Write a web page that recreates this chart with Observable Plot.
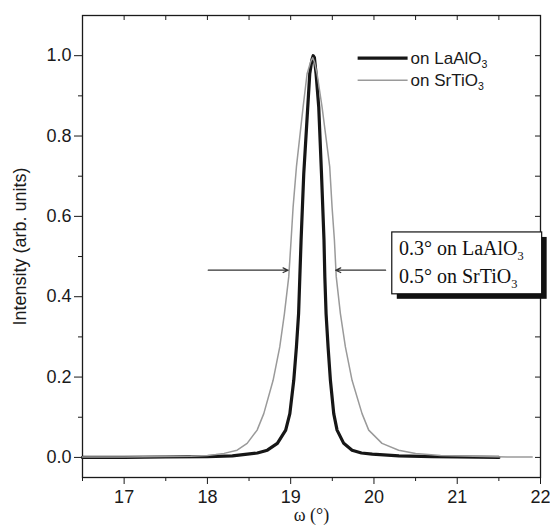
<!DOCTYPE html>
<html>
<head>
<meta charset="utf-8">
<script src="https://cdn.jsdelivr.net/npm/d3@7"></script>
<script src="https://cdn.jsdelivr.net/npm/@observablehq/plot@0.6"></script>
<style>
  html, body { margin: 0; padding: 0; background: white; }
  #chart { width: 550px; height: 530px; }
</style>
</head>
<body>
<div id="chart"></div>
<script>
// LaAlO3 rocking curve (omega, intensity)
const lanOmega = [16.5, 17.0, 17.5, 18.0, 18.3, 18.48, 18.6, 18.72, 18.84, 18.94, 18.99, 19.037, 19.069, 19.095, 19.11, 19.125, 19.157, 19.205, 19.229, 19.255, 19.27, 19.285, 19.305, 19.337, 19.37, 19.40, 19.41, 19.425, 19.449, 19.477, 19.517, 19.557, 19.637, 19.737, 19.85, 19.98, 20.3, 20.7, 21.0, 21.5];
const lanInt   = [0.000, 0.000, 0.001, 0.002, 0.004, 0.008, 0.011, 0.018, 0.035, 0.068, 0.109, 0.192, 0.275, 0.358, 0.450, 0.541, 0.706, 0.872, 0.955, 0.990, 1.000, 0.995, 0.955, 0.872, 0.706, 0.541, 0.450, 0.358, 0.275, 0.192, 0.109, 0.068, 0.035, 0.018, 0.011, 0.008, 0.004, 0.002, 0.001, 0.000];
// SrTiO3 rocking curve
const stoOmega = [16.5, 17.0, 17.5, 17.8, 18.0, 18.1, 18.2, 18.357, 18.477, 18.597, 18.677, 18.789, 18.869, 18.925, 18.977, 19.005, 19.029, 19.069, 19.149, 19.197, 19.24, 19.265, 19.285, 19.317, 19.377, 19.469, 19.497, 19.525, 19.547, 19.597, 19.657, 19.737, 19.857, 19.937, 20.097, 20.297, 20.5, 20.8, 21.2, 21.6, 21.9];
const stoInt   = [0.001, 0.001, 0.002, 0.003, 0.005, 0.007, 0.010, 0.018, 0.035, 0.068, 0.109, 0.192, 0.275, 0.358, 0.450, 0.541, 0.623, 0.723, 0.872, 0.955, 0.985, 0.995, 0.985, 0.955, 0.872, 0.723, 0.623, 0.541, 0.450, 0.358, 0.275, 0.192, 0.109, 0.068, 0.035, 0.018, 0.010, 0.005, 0.003, 0.001, 0.001];

const xTicks = [17, 18, 19, 20, 21, 22];
const xMinor = [16.5, 17.5, 18.5, 19.5, 20.5, 21.5];
const yTicks = [0, 0.2, 0.4, 0.6, 0.8, 1.0];
const yMinor = [0.1, 0.3, 0.5, 0.7, 0.9];

const seriesNames = ["on LaAlO_3", "on SrTiO_3"];
const seriesColors = ["#161616", "#9a9a9a"];
const seriesWidths = [3.2, 1.5];
const legendY = [0.994, 0.939];
const legendX = [19.81, 20.41, 20.44];

const boxLines = ["0.3° on LaAlO_3", "0.5° on SrTiO_3"];
const boxLineY = [0.519, 0.449];
const boxExtent = {x1: 20.22, x2: 22.02, y1: 0.406, y2: 0.560, textX: 20.30};
const arrows = [
  {x1: 18.01, x2: 18.97, y: 0.466},
  {x1: 20.14, x2: 19.54, y: 0.466}
];

const lan = lanOmega.map((x, i) => ({x, y: lanInt[i]}));
const sto = stoOmega.map((x, i) => ({x, y: stoInt[i]}));
const legendRows = seriesNames.map((name, i) => ({name, y: legendY[i], color: seriesColors[i], w: seriesWidths[i]}));

const fw = 550 - 82 - 10, fh = 530 - 15 - 53;
const serif = "'Liberation Serif', 'Times New Roman', serif";

const chart = Plot.plot({
  width: 550,
  height: 530,
  marginLeft: 82,
  marginRight: 10,
  marginTop: 15,
  marginBottom: 53,
  x: {domain: [16.5, 22]},
  y: {domain: [-0.05, 1.1]},
  style: {fontFamily: "'Liberation Sans', Arial, sans-serif", fontSize: "18px", color: "#1a1a1a", background: "white"},
  marks: [
    Plot.frame({stroke: "#1a1a1a", strokeWidth: 1.3}),
    Plot.axisX(xTicks, {tickSize: 7, tickPadding: 6, fontSize: 18, label: null, tickFormat: d => String(d)}),
    Plot.axisX(xMinor, {tickSize: 4, label: null, tickFormat: () => ""}),
    Plot.axisY(yTicks, {tickSize: 8, tickPadding: 3, fontSize: 18, label: null, tickFormat: d3.format(".1f")}),
    Plot.axisY(yMinor, {tickSize: 4, label: null, tickFormat: () => ""}),
    Plot.tickX(xTicks.concat(xMinor), {x: d => d, insetBottom: fh - 5, stroke: "#1a1a1a"}),
    Plot.tickY(yTicks.concat(yMinor), {y: d => d, insetLeft: fw - 5, stroke: "#1a1a1a"}),
    Plot.line(lan, {x: "x", y: "y", stroke: seriesColors[0], strokeWidth: seriesWidths[0], strokeLinejoin: "round"}),
    Plot.line(sto, {x: "x", y: "y", stroke: seriesColors[1], strokeWidth: seriesWidths[1]}),
    Plot.ruleY(legendRows, {y: "y", x1: legendX[0], x2: legendX[1], stroke: "color", strokeWidth: "w"}),
    Plot.text(legendRows, {x: legendX[2], y: "y", text: "name", textAnchor: "start", fontSize: 17, fill: "#1a1a1a"}),
    Plot.arrow(arrows, {x1: "x1", x2: "x2", y1: "y", y2: "y", stroke: "#333", strokeWidth: 1.2, headLength: 7, headAngle: 50}),
    Plot.rect([boxExtent], {x1: "x1", x2: "x2", y1: "y1", y2: "y2", fill: "#111", dx: 5, dy: 5}),
    Plot.rect([boxExtent], {x1: "x1", x2: "x2", y1: "y1", y2: "y2", fill: "white", stroke: "#111", strokeWidth: 1.2}),
    Plot.text(boxLines, {x: boxExtent.textX, y: (d, i) => boxLineY[i], text: d => d, textAnchor: "start", fontSize: 20, fontFamily: serif, fill: "#111"}),
    Plot.text(["ω (°)"], {frameAnchor: "bottom", dy: 43, text: d => d, fontSize: 18, fontFamily: serif, fill: "#1a1a1a"}),
    Plot.text(["Intensity (arb. units)"], {frameAnchor: "left", textAnchor: "middle", rotate: -90, dx: -62, text: d => d, fontSize: 18, fill: "#1a1a1a"})
  ]
});

// subscripts
chart.querySelectorAll("text").forEach(t => {
  const s = t.textContent;
  if (s.includes("_")) {
    const [a, b] = s.split("_");
    t.textContent = a;
    const ts = document.createElementNS("http://www.w3.org/2000/svg", "tspan");
    ts.setAttribute("dy", "0.4em");
    ts.setAttribute("font-size", "62%");
    ts.setAttribute("fill", "#111");
    ts.textContent = b;
    t.appendChild(ts);
  }
});

document.getElementById("chart").appendChild(chart);
</script>
</body>
</html>
